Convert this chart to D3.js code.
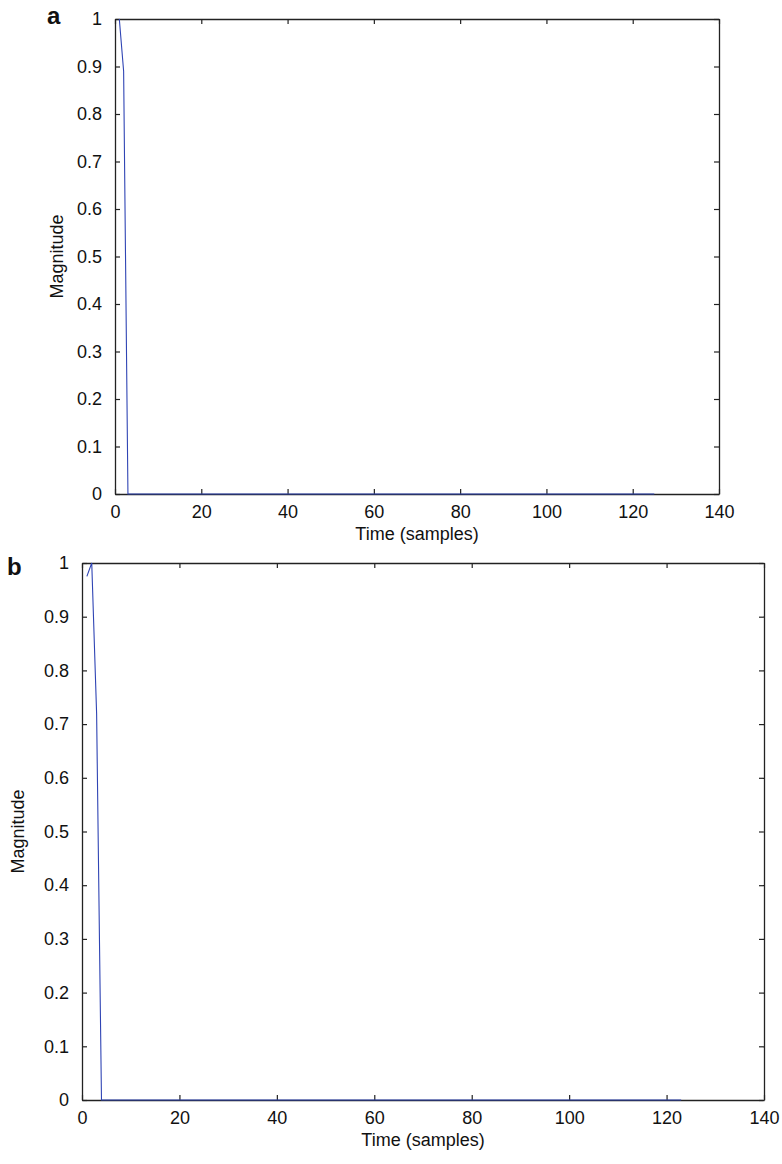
<!DOCTYPE html>
<html>
<head>
<meta charset="utf-8">
<script src="https://cdn.jsdelivr.net/npm/d3@7"></script>
<style>
  body { margin: 0; background: #fff; }
  svg text { font-family: "Liberation Sans", Arial, Helvetica, sans-serif; fill: #111; }
</style>
</head>
<body>
<svg id="chart" width="782" height="1164"></svg>
<script>
// breakpoints of the traces (flat at zero after the drop)
const samplesA = [1, 2, 3, 125];
const magnitudeA = [1, 0.89, 0, 0];
const samplesB = [1, 2, 3, 4, 123];
const magnitudeB = [0.975, 1, 0.72, 0, 0];

const xTicks = [0, 20, 40, 60, 80, 100, 120, 140];
const yTicks = [0, 0.1, 0.2, 0.3, 0.4, 0.5, 0.6, 0.7, 0.8, 0.9, 1];
const xTitle = "Time (samples)";
const yTitle = "Magnitude";

const svg = d3.select("#chart");

// one panel = box with ticks on all four sides, matlab style
let drawPanel = (box, xs, ys, letter) => {
    const g = svg.append("g");
    const x = d3.scaleLinear().domain([0, 140]).range([box.left, box.right]);
    const y = d3.scaleLinear().domain([0, 1]).range([box.bottom, box.top]);

    const fmt = d => d === 0 ? "0" : d === 1 ? "1" : d3.format(".1f")(d);

    const styleAxis = a => {
        a.selectAll("path").attr("stroke", "#222").attr("stroke-width", 1.3);
        a.selectAll("line").attr("stroke", "#222").attr("stroke-width", 1.2);
        a.selectAll("text").style("font-size", "18px").attr("fill", "#111");
    };

    g.append("g").attr("transform", `translate(0,${box.bottom})`)
        .call(d3.axisBottom(x).tickValues(xTicks).tickSizeInner(-5).tickSizeOuter(0).tickPadding(11))
        .call(styleAxis);
    g.append("g").attr("transform", `translate(0,${box.top})`)
        .call(d3.axisTop(x).tickValues(xTicks).tickSizeInner(-5).tickSizeOuter(0).tickFormat(""))
        .call(styleAxis);
    g.append("g").attr("transform", `translate(${box.left},0)`)
        .call(d3.axisLeft(y).tickValues(yTicks).tickSizeInner(-5).tickSizeOuter(0).tickPadding(13).tickFormat(fmt))
        .call(styleAxis);
    g.append("g").attr("transform", `translate(${box.right},0)`)
        .call(d3.axisRight(y).tickValues(yTicks).tickSizeInner(-5).tickSizeOuter(0).tickFormat(""))
        .call(styleAxis);

    const pts = xs.map((v, i) => [v, ys[i]]);
    g.append("path")
        .datum(pts)
        .attr("fill", "none")
        .attr("stroke", "#2f44b4")
        .attr("stroke-width", 1.1)
        .attr("d", d3.line().x(d => x(d[0])).y(d => y(d[1])));

    g.append("text")
        .attr("x", (box.left + box.right) / 2)
        .attr("y", box.bottom + 46)
        .attr("text-anchor", "middle")
        .style("font-size", "18px")
        .text(xTitle);

    g.append("text")
        .attr("transform", `translate(${box.yLabelX},${(box.top + box.bottom) / 2}) rotate(-90)`)
        .attr("text-anchor", "middle")
        .style("font-size", "18px")
        .text(yTitle);

    g.append("text")
        .attr("x", box.letterX)
        .attr("y", box.letterY)
        .style("font-size", "24px")
        .style("font-weight", "bold")
        .text(letter);
};

drawPanel({ left: 115, right: 719, top: 19, bottom: 494, yLabelX: 63, letterX: 47, letterY: 24 },
    samplesA, magnitudeA, "a");
drawPanel({ left: 82, right: 764, top: 563, bottom: 1100, yLabelX: 24, letterX: 7, letterY: 575 },
    samplesB, magnitudeB, "b");
</script>
</body>
</html>
